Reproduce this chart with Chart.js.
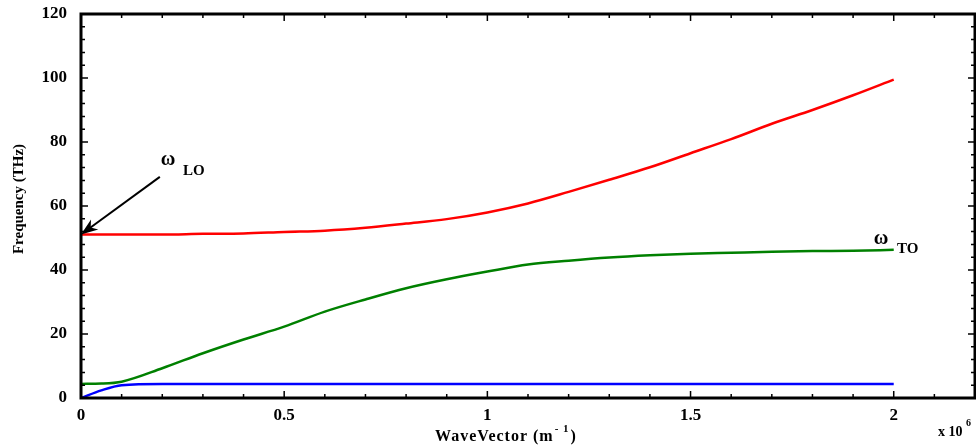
<!DOCTYPE html>
<html lang="en">
<head>
    <meta charset="UTF-8">
    <title>Phonon Dispersion</title>
    <script src="https://cdn.jsdelivr.net/npm/chart.js@4.4.1/dist/chart.umd.min.js"></script>
    <style>
        body { margin: 0; background: #fff; }
        canvas { display: block; }
    </style>
</head>
<body>
    <canvas id="dispersionChart" width="976" height="447"></canvas>
    <script>
        // wave vector in units of 10^6 m^-1
        const waveVector = [0, 0.05, 0.1, 0.2, 0.3, 0.4, 0.5, 0.6, 0.7, 0.8, 0.9, 1.0,
                            1.1, 1.2, 1.3, 1.4, 1.5, 1.6, 1.7, 1.8, 1.9, 2.0];
        // frequencies in THz
        const loBranch = [51.1, 51.1, 51.1, 51.1, 51.3, 51.4, 51.9, 52.3, 53.2, 54.5, 55.9, 58.0,
                          60.8, 64.4, 68.2, 72.1, 76.5, 80.9, 85.7, 90.0, 94.6, 99.5];
        const toBranch = [4.4, 4.5, 5.1, 9.3, 14.0, 18.3, 22.3, 27.0, 30.8, 34.3, 37.1, 39.5,
                          41.7, 42.9, 43.9, 44.6, 45.1, 45.4, 45.7, 45.9, 46.0, 46.3];
        const lowBranch = [0, 2.4, 4.0, 4.4, 4.4, 4.4, 4.4, 4.4, 4.4, 4.4, 4.4, 4.4,
                           4.4, 4.4, 4.4, 4.4, 4.4, 4.4, 4.4, 4.4, 4.4, 4.4];
        const xTicks = [0, 0.5, 1, 1.5, 2];
        const yTicks = [0, 20, 40, 60, 80, 100, 120];

        const serif = '"Liberation Serif", "Times New Roman", serif';

        function toPoints(ys) {
            return waveVector.map((x, i) => ({ x: x, y: ys[i] }));
        }

        // frame with inward ticks on all four sides, plus labels
        const framePlugin = {
            id: 'frame',
            afterDraw(chart) {
                const ctx = chart.ctx;
                const a = chart.chartArea;
                const xs = chart.scales.x;
                const ys = chart.scales.y;
                ctx.save();
                ctx.strokeStyle = '#000';
                ctx.lineWidth = 1.5;
                for (let i = 0; i <= 22; i++) {
                    const px = xs.getPixelForValue(i / 10);
                    const len = (i % 5 === 0) ? 7 : 4;
                    ctx.beginPath();
                    ctx.moveTo(px, a.bottom); ctx.lineTo(px, a.bottom - len);
                    ctx.moveTo(px, a.top); ctx.lineTo(px, a.top + len);
                    ctx.stroke();
                }
                for (let i = 0; i <= 30; i++) {
                    const py = ys.getPixelForValue(i * 4);
                    const len = (i % 5 === 0) ? 7 : 4;
                    ctx.beginPath();
                    ctx.moveTo(a.left, py); ctx.lineTo(a.left + len, py);
                    ctx.moveTo(a.right, py); ctx.lineTo(a.right - len, py);
                    ctx.stroke();
                }
                ctx.lineWidth = 3;
                ctx.strokeRect(a.left, a.top, a.right - a.left, a.bottom - a.top);

                // arrow pointing at omega LO
                const tipX = xs.getPixelForValue(0), tipY = ys.getPixelForValue(51.1);
                const tailX = xs.getPixelForValue(0.194), tailY = ys.getPixelForValue(69.1);
                const ang = Math.atan2(tipY - tailY, tipX - tailX);
                ctx.lineWidth = 2;
                ctx.beginPath();
                ctx.moveTo(tailX, tailY);
                ctx.lineTo(tipX - 8 * Math.cos(ang), tipY - 8 * Math.sin(ang));
                ctx.stroke();
                ctx.fillStyle = '#000';
                ctx.beginPath();
                ctx.moveTo(tipX, tipY);
                ctx.lineTo(tipX - 18 * Math.cos(ang - 0.35), tipY - 18 * Math.sin(ang - 0.35));
                ctx.lineTo(tipX - 12 * Math.cos(ang), tipY - 12 * Math.sin(ang));
                ctx.lineTo(tipX - 18 * Math.cos(ang + 0.35), tipY - 18 * Math.sin(ang + 0.35));
                ctx.closePath();
                ctx.fill();

                ctx.fillStyle = '#000';
                ctx.textBaseline = 'middle';
                ctx.textAlign = 'center';
                ctx.font = 'bold 20px ' + serif;
                ctx.fillText('\u03C9', 168, 160);
                ctx.fillText('\u03C9', 881, 239);
                ctx.textAlign = 'left';
                ctx.font = 'bold 15px ' + serif;
                ctx.fillText('LO', 183, 171);
                ctx.fillText('TO', 897, 249);

                // axis titles
                ctx.textBaseline = 'alphabetic';
                ctx.letterSpacing = '1px';
                const t1 = 'WaveVector (m';
                const sup = '- 1';
                const t2 = ')';
                ctx.font = 'bold 16px ' + serif;
                const w1 = ctx.measureText(t1).width;
                ctx.font = 'bold 11px ' + serif;
                const ws = ctx.measureText(sup).width;
                ctx.font = 'bold 16px ' + serif;
                const w2 = ctx.measureText(t2).width;
                let x0 = 506 - (w1 + ws + w2 + 2) / 2;
                ctx.fillText(t1, x0, 441);
                ctx.font = 'bold 11px ' + serif;
                ctx.fillText(sup, x0 + w1 + 1, 432);
                ctx.font = 'bold 16px ' + serif;
                ctx.fillText(t2, x0 + w1 + ws + 2, 441);
                ctx.letterSpacing = '0px';

                ctx.font = 'bold 14px ' + serif;
                ctx.fillText('x 10', 938, 436);
                ctx.font = 'bold 10px ' + serif;
                ctx.fillText('6', 966, 426);

                ctx.save();
                ctx.translate(23, 199);
                ctx.rotate(-Math.PI / 2);
                ctx.textAlign = 'center';
                ctx.font = 'bold 15px ' + serif;
                ctx.fillText('Frequency (THz)', 0, 0);
                ctx.restore();
                ctx.restore();
            }
        };

        const ctx = document.getElementById('dispersionChart').getContext('2d');
        const chart = new Chart(ctx, {
            type: 'line',
            data: {
                datasets: [
                    { data: toPoints(loBranch), borderColor: '#ff0000', borderWidth: 2.5 },
                    { data: toPoints(toBranch), borderColor: '#008000', borderWidth: 2.5 },
                    { data: toPoints(lowBranch), borderColor: '#0000ff', borderWidth: 2.5 }
                ]
            },
            options: {
                responsive: false,
                animation: false,
                layout: { padding: { top: 14, right: 1, left: 0, bottom: 0 } },
                elements: {
                    point: { radius: 0 },
                    line: { cubicInterpolationMode: 'monotone', fill: false }
                },
                plugins: { legend: { display: false }, tooltip: { enabled: false } },
                scales: {
                    x: {
                        type: 'linear',
                        min: 0,
                        max: 2.2,
                        grid: { display: false, drawTicks: false },
                        border: { display: false },
                        afterBuildTicks: s => { s.ticks = xTicks.map(v => ({ value: v })); },
                        afterFit: s => { s.height = 49; s.paddingLeft = 0; s.paddingRight = 0; },
                        ticks: {
                            color: '#000',
                            padding: 7,
                            callback: v => String(v),
                            font: { family: serif, size: 17, weight: 'bold' }
                        }
                    },
                    y: {
                        min: 0,
                        max: 120,
                        grid: { display: false, drawTicks: false },
                        border: { display: false },
                        afterBuildTicks: s => { s.ticks = yTicks.map(v => ({ value: v })); },
                        afterFit: s => { s.width = 81; s.paddingTop = 0; s.paddingBottom = 0; },
                        ticks: {
                            color: '#000',
                            padding: 14,
                            font: { family: serif, size: 17, weight: 'bold' }
                        }
                    }
                }
            },
            plugins: [framePlugin]
        });
    </script>
</body>
</html>
